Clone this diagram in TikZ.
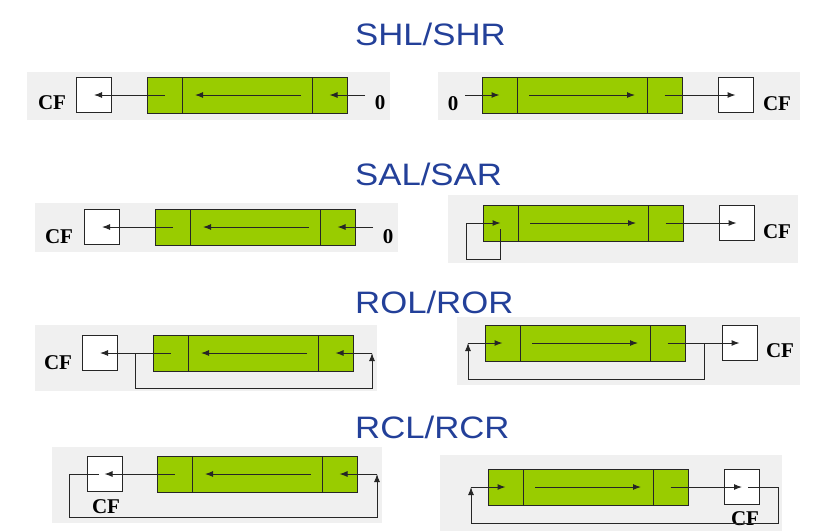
\documentclass[tikz,border=0pt]{standalone}
\usepackage{fontspec}
\setmainfont{Liberation Serif}
\newfontfamily\titlefont{Liberation Sans}
\usepackage{tikz}
\usetikzlibrary{arrows.meta}
\definecolor{regcolor}{RGB}{153,204,0}
\definecolor{titleblue}{RGB}{35,64,153}
\definecolor{panelgray}{RGB}{240,240,240}
\tikzset{
  panel/.style={fill=panelgray,draw=none},
  cell/.style={draw=black!85,line width=1pt,fill=regcolor,minimum height=36pt,inner sep=0pt,outer sep=0pt,anchor=west},
  flag/.style={draw=black!85,line width=1pt,fill=white,minimum size=35pt,inner sep=0pt,outer sep=0pt},
  flagtext/.style={font=\fontsize{21}{21}\selectfont\bfseries,inner sep=0pt,anchor=base},
  optitle/.style={font=\titlefont\fontsize{31}{31}\selectfont,text=titleblue,inner sep=0pt,anchor=base west},
  bitflow/.style={line width=1pt,draw=black!85,-{Latex[length=8pt,width=6pt]}},
  plain/.style={line width=1pt,draw=black!85}
}
% register: name, left x, centre y
\newcommand\register[3]{%
  \node[cell,minimum width=35pt]  (#1l) at (#2,#3) {};
  \node[cell,minimum width=130pt] (#1m) at (#1l.east) {};
  \node[cell,minimum width=35pt]  (#1r) at (#1m.east) {};
}
\newcommand\optext[1]{\scalebox{1.12}[1]{#1}}

\begin{document}
\begin{tikzpicture}[x=1pt,y=-1pt]
  \useasboundingbox (0,0) rectangle (838,531);
  % titles
  \node[optitle] (t1) at (355,45)  {\optext{SHL/SHR}};
  \node[optitle] (t2) at (355,185) {\optext{SAL/SAR}};
  \node[optitle] (t3) at (355,313) {\optext{ROL/ROR}};
  \node[optitle] (t4) at (355,438) {\optext{RCL/RCR}};
  % backgrounds
  \fill[panel] (27,72)  rectangle (390,120);
  \fill[panel] (438,72) rectangle (800,120);
  \fill[panel] (35,203) rectangle (398,252);
  \fill[panel] (448,195) rectangle (798,263);
  \fill[panel] (35,325) rectangle (377,391);
  \fill[panel] (457,317) rectangle (800,385);
  \fill[panel] (52,447) rectangle (382,523);
  \fill[panel] (440,455) rectangle (782,531);

  % SHL
  \register{p1}{147}{95}
  \node[flag] (p1c) at (94,95) {};
  \node[flagtext] (p1t) at (52,109) {CF};
  \node[flagtext] (p1z) at (380,109) {0};
  \coordinate (p1in) at (365,95);
  \draw[bitflow] (p1in) -- (p1r.center);
  \draw[bitflow] ([xshift=-11pt]p1m.east) -- ([xshift=13pt]p1m.west);
  \draw[bitflow] (p1l.center) -- (p1c.center);
  % SHR
  \register{p2}{482}{95}
  \node[flag] (p2c) at (735.5,95) {};
  \node[flagtext] (p2t) at (777,110) {CF};
  \node[flagtext] (p2z) at (453,110) {0};
  \coordinate (p2in) at (465,95);
  \draw[bitflow] (p2in) -- (p2l.center);
  \draw[bitflow] ([xshift=12pt]p2m.west) -- ([xshift=-12pt]p2m.east);
  \draw[bitflow] (p2r.center) -- (p2c.center);

  % SAL
  \register{p3}{155}{227}
  \node[flag] (p3c) at (102,227) {};
  \node[flagtext] (p3t) at (59,243) {CF};
  \node[flagtext] (p3z) at (388,243) {0};
  \coordinate (p3in) at (373,227);
  \draw[bitflow] (p3in) -- (p3r.center);
  \draw[bitflow] ([xshift=-11pt]p3m.east) -- ([xshift=13pt]p3m.west);
  \draw[bitflow] (p3l.center) -- (p3c.center);
  % SAR
  \register{p4}{483}{223}
  \node[flag] (p4c) at (736.5,223) {};
  \node[flagtext] (p4t) at (777,238) {CF};
  \coordinate (p4w) at (466,259);
  \draw[bitflow] ([yshift=-6pt]p4l.center) -- (p4l.center |- p4w) -- (p4w) |- (p4l.center);
  \draw[bitflow] ([xshift=12pt]p4m.west) -- ([xshift=-12pt]p4m.east);
  \draw[bitflow] (p4r.center) -- (p4c.center);

  % ROL
  \register{p5}{153}{353}
  \node[flag] (p5c) at (100,353) {};
  \node[flagtext] (p5t) at (58,369) {CF};
  \coordinate (p5b) at (135,353);
  \coordinate (p5w) at (372,388);
  \coordinate (p5up) at (372,353);
  \draw[bitflow] (p5l.center) -- (p5c.center);
  \draw[bitflow] (p5b) |- (p5w) -- (p5up);
  \draw[bitflow] (p5up) -- (p5r.center);
  \draw[bitflow] ([xshift=-11pt]p5m.east) -- ([xshift=13pt]p5m.west);
  % ROR
  \register{p6}{485}{343}
  \node[flag] (p6c) at (739.5,343) {};
  \node[flagtext] (p6t) at (780,357) {CF};
  \coordinate (p6b) at (704,343);
  \coordinate (p6w) at (468,379);
  \coordinate (p6up) at (468,343);
  \draw[bitflow] (p6r.center) -- (p6c.center);
  \draw[bitflow] (p6b) |- (p6w) -- (p6up);
  \draw[bitflow] (p6up) -- (p6l.center);
  \draw[bitflow] ([xshift=12pt]p6m.west) -- ([xshift=-12pt]p6m.east);

  % RCL
  \register{p7}{157}{474}
  \node[flag] (p7c) at (104.5,474) {};
  \node[flagtext] (p7t) at (106,513) {CF};
  \coordinate (p7w) at (69,517);
  \coordinate (p7up) at (377,474);
  \draw[bitflow] (p7l.center) -- (p7c.center);
  \draw[bitflow] ([xshift=-6pt]p7c.center) -- (p7w |- p7c) -- (p7w) -| (p7up);
  \draw[bitflow] (p7up) -- (p7r.center);
  \draw[bitflow] ([xshift=-11pt]p7m.east) -- ([xshift=13pt]p7m.west);
  % RCR
  \register{p8}{488}{487}
  \node[flag] (p8c) at (742,487) {};
  \node[flagtext] (p8t) at (745,525) {CF};
  \coordinate (p8e) at (778,523);
  \coordinate (p8up) at (471,487);
  \draw[bitflow] (p8r.center) -- (p8c.center);
  \draw[bitflow] ([xshift=6pt]p8c.center) -| (p8e) -| (p8up);
  \draw[bitflow] (p8up) -- (p8l.center);
  \draw[bitflow] ([xshift=12pt]p8m.west) -- ([xshift=-12pt]p8m.east);
\end{tikzpicture}
\end{document}
